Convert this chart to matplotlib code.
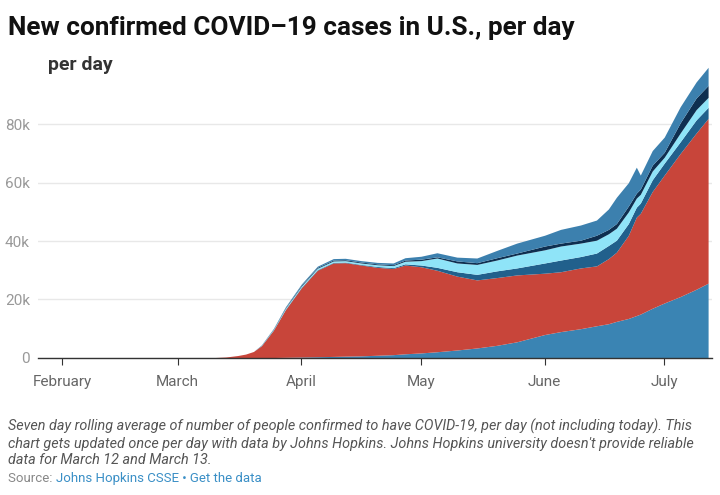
import matplotlib
matplotlib.use('Agg')
import matplotlib.pyplot as plt
import matplotlib.dates as mdates
import numpy as np

plt.rcParams['font.family'] = ['Roboto', 'DejaVu Sans']

# sample dates (2020) and the upper edge of each stacked band (cases per day)
dates = ['2020-02-01', '2020-03-01', '2020-03-10', '2020-03-13', '2020-03-16',
         '2020-03-18', '2020-03-20', '2020-03-22', '2020-03-25', '2020-03-28',
         '2020-04-01', '2020-04-05', '2020-04-09', '2020-04-12', '2020-04-16',
         '2020-04-20', '2020-04-24', '2020-04-27', '2020-05-01', '2020-05-05',
         '2020-05-10', '2020-05-15', '2020-05-20', '2020-05-25', '2020-06-01',
         '2020-06-05', '2020-06-10', '2020-06-14', '2020-06-17', '2020-06-19',
         '2020-06-22', '2020-06-24', '2020-06-25', '2020-06-28', '2020-07-01',
         '2020-07-05', '2020-07-09', '2020-07-12']

top_blue = [0, 0, 0, 0, 0,
            0, 50, 80, 120, 200,
            300, 400, 500, 600, 700,
            900, 1100, 1400, 1700, 2100,
            2700, 3400, 4300, 5500, 8000,
            9000, 10000, 11000, 11700, 12500,
            13500, 14500, 15000, 17000, 18800,
            21000, 23500, 25600]
top_red = [0, 0, 100, 300, 800,
           1300, 2200, 4200, 9500, 16500,
           24000, 30000, 32500, 32600, 31800,
           31000, 30600, 31800, 31200, 30000,
           28000, 26700, 27500, 28400, 29000,
           29500, 30800, 31500, 34000, 36200,
           42000, 48200, 49500, 57000, 62600,
           70000, 77000, 82000]
top_dark_blue = [0, 0, 100, 300, 800,
                 1300, 2200, 4250, 9600, 16650,
                 24200, 30200, 32700, 32800, 32000,
                 31300, 30900, 32200, 31800, 31000,
                 29500, 28600, 29800, 30800, 32500,
                 33500, 34700, 35900, 38500, 40300,
                 46000, 51600, 53000, 61000, 66700,
                 74000, 81500, 85800]
top_cyan = [0, 0, 100, 300, 800,
            1300, 2200, 4350, 9800, 17000,
            24600, 30700, 33200, 33300, 32500,
            31900, 31600, 33100, 33300, 34200,
            32500, 32000, 33500, 35200, 37000,
            38300, 39300, 40300, 42500, 44400,
            50000, 54700, 56000, 64000, 68700,
            77000, 85000, 89200]
top_navy = [0, 0, 100, 300, 800,
            1300, 2200, 4400, 9900, 17200,
            24900, 31000, 33500, 33600, 32800,
            32200, 31900, 33500, 33800, 34600,
            33200, 32600, 34300, 35900, 38300,
            39300, 40300, 42000, 44000, 46000,
            52000, 56400, 57800, 66000, 70400,
            80500, 89000, 93300]
top_mid_blue = [0, 0, 100, 300, 800,
                1300, 2200, 4500, 10100, 17500,
                25300, 31400, 34000, 34100, 33300,
                32700, 32500, 34300, 34800, 36000,
                34500, 34200, 36800, 39300, 42000,
                44000, 45500, 47200, 51000, 55000,
                60000, 65300, 62600, 71000, 75600,
                86000, 94500, 99500]

colors = ['#3a84b3', '#c8453a', '#21608c', '#8fe4f8', '#0e2f50', '#3c80ae']
tops = [top_blue, top_red, top_dark_blue, top_cyan, top_navy, top_mid_blue]

x = np.array(dates, dtype='datetime64[D]')

fig = plt.figure(figsize=(7.2, 4.95), dpi=100)
ax = fig.add_axes([0.053, 0.277, 0.936, 0.59])

lower = np.zeros(len(dates))
for top, c in zip(tops, colors):
    ax.fill_between(x, lower, top, color=c, linewidth=0)
    lower = np.array(top, dtype=float)

ax.set_ylim(0, 100000)
ax.set_xlim(np.datetime64('2020-01-26'), np.datetime64('2020-07-13'))

ax.set_yticks([0, 20000, 40000, 60000, 80000])
ax.set_yticklabels(['0', '20k', '40k', '60k', '80k'])
ax.yaxis.grid(True, color='#e8e8e8', linewidth=1)
ax.set_axisbelow(True)
ax.tick_params(axis='y', length=0, labelsize=11, labelcolor='#999999', pad=6)

months = np.array(['2020-02-01', '2020-03-01', '2020-04-01', '2020-05-01',
                   '2020-06-01', '2020-07-01'], dtype='datetime64[D]')
ax.set_xticks(months)
ax.xaxis.set_major_formatter(mdates.DateFormatter('%B'))
ax.tick_params(axis='x', length=5, color='#333333', labelsize=11,
               labelcolor='#666666', pad=7)

for s in ['top', 'right', 'left']:
    ax.spines[s].set_visible(False)
ax.spines['bottom'].set_color('#333333')
ax.spines['bottom'].set_linewidth(1)

fig.text(0.011, 0.943, 'New confirmed COVID\u201319 cases in U.S., per day',
         fontsize=18.8, fontweight='bold', color='#111111', va='center')
fig.text(0.066, 0.868, 'per day', fontsize=14, fontweight='bold',
         color='#333333', va='center')

caption = ("Seven day rolling average of number of people confirmed to have COVID-19, per day (not including today). This\n"
           "chart gets updated once per day with data by Johns Hopkins. Johns Hopkins university doesn't provide reliable\n"
           "data for March 12 and March 13.")
fig.text(0.011, 0.105, caption, fontsize=10.4, style='italic', color='#555555',
         va='center', linespacing=1.22)

t = fig.text(0.011, 0.033, 'Source: ', fontsize=9.5, color='#888888', va='center')
fig.canvas.draw()
bb = t.get_window_extent()
x1 = bb.x1 / fig.bbox.width
fig.text(x1, 0.033, 'Johns Hopkins CSSE \u2022 Get the data', fontsize=9.5,
         color='#3a8fc6', va='center')

plt.savefig('out.png', dpi=100)
